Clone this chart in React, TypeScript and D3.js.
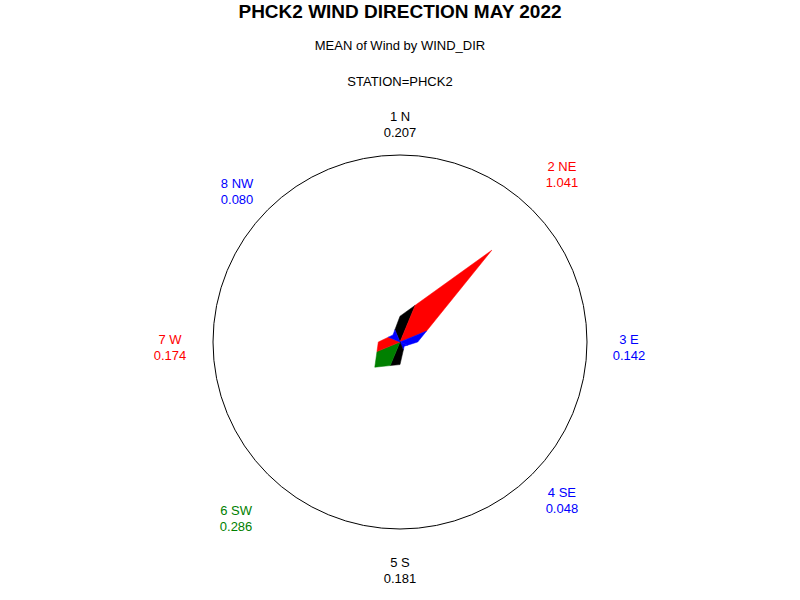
import React from "react";
import * as d3 from "d3";

const directions = ["1 N", "2 NE", "3 E", "4 SE", "5 S", "6 SW", "7 W", "8 NW"];
const meanWind = [0.207, 1.041, 0.142, 0.048, 0.181, 0.286, 0.174, 0.08];
const sliceColors = ["#000000", "#ff0000", "#0000ff", "#0000ff", "#000000", "#008000", "#ff0000", "#0000ff"];
const titleText = "PHCK2 WIND DIRECTION MAY 2022";
const subtitle1 = "MEAN of Wind by WIND_DIR";
const subtitle2 = "STATION=PHCK2";

const W = 800;
const H = 600;
const cx = 400;
const cy = 342;
const R = 187;
const FONT = "'Liberation Sans', Arial, Helvetica, sans-serif";
// small layout nudges for the diagonal labels (SAS places them slightly unevenly)
const labelNudgeY = [0, -15, 0, -4, 0, 14, 0, 2];
const labelNudgeX = [0, 0, 0, 0, 0, -2, -1, -1];

type Pt = [number, number];

export default function App() {
  const n = directions.length;
  const rScale = d3.scaleLinear().domain([0, 1.5]).range([0, R]);
  const angle = d3.scaleLinear().domain([0, n]).range([0, 2 * Math.PI]);

  const tip = (i: number): Pt => {
    const k = ((i % n) + n) % n;
    const a = angle(k);
    const r = rScale(meanWind[k]);
    return [r * Math.sin(a), -r * Math.cos(a)];
  };

  const cross = (a: Pt, b: Pt) => a[0] * b[1] - a[1] * b[0];

  const bisect = (i: number, j: number, a: number): Pt => {
    const P = tip(i);
    const Q = tip(j);
    const d: Pt = [Math.sin(a), -Math.cos(a)];
    const QP: Pt = [Q[0] - P[0], Q[1] - P[1]];
    const t = -cross(d, P) / cross(d, QP);
    return [P[0] + t * QP[0], P[1] + t * QP[1]];
  };

  const line = d3.line<Pt>().x((p) => cx + p[0]).y((p) => cy + p[1]);

  const slices = directions.map((_, i) => {
    const a = angle(i);
    const half = Math.PI / n;
    const pts: Pt[] = [
      [0, 0],
      bisect(i - 1, i, a - half),
      tip(i),
      bisect(i, i + 1, a + half),
    ];
    return { d: line(pts) + "Z", color: sliceColors[i] };
  });

  const Rx = 229;
  const Ry = 223;

  return (
    <svg
      width={W}
      height={H}
      style={{ position: "absolute", left: 0, top: 0, background: "#fff" }}
      fontFamily={FONT}
    >
      <rect width={W} height={H} fill="#fff" />
      <text x={400} y={18} textAnchor="middle" fontSize={19} fontWeight="bold">
        {titleText}
      </text>
      <text x={400} y={50} textAnchor="middle" fontSize={13}>
        {subtitle1}
      </text>
      <text x={400} y={86} textAnchor="middle" fontSize={13}>
        {subtitle2}
      </text>
      <circle cx={cx} cy={cy} r={R} fill="none" stroke="#000" strokeWidth={1} />
      {slices.map((s, i) => (
        <path key={i} d={s.d} fill={s.color} stroke={s.color} strokeWidth={0.5} />
      ))}
      {directions.map((dname, i) => {
        const a = angle(i);
        const lx = cx + Rx * Math.sin(a) + labelNudgeX[i];
        const ly = cy - Ry * Math.cos(a) + 3.5 + labelNudgeY[i];
        return (
          <g key={dname} fill={sliceColors[i]} fontSize={13} textAnchor="middle">
            <text x={lx} y={ly - 2}>{dname}</text>
            <text x={lx} y={ly + 14}>{meanWind[i].toFixed(3)}</text>
          </g>
        );
      })}
    </svg>
  );
}
